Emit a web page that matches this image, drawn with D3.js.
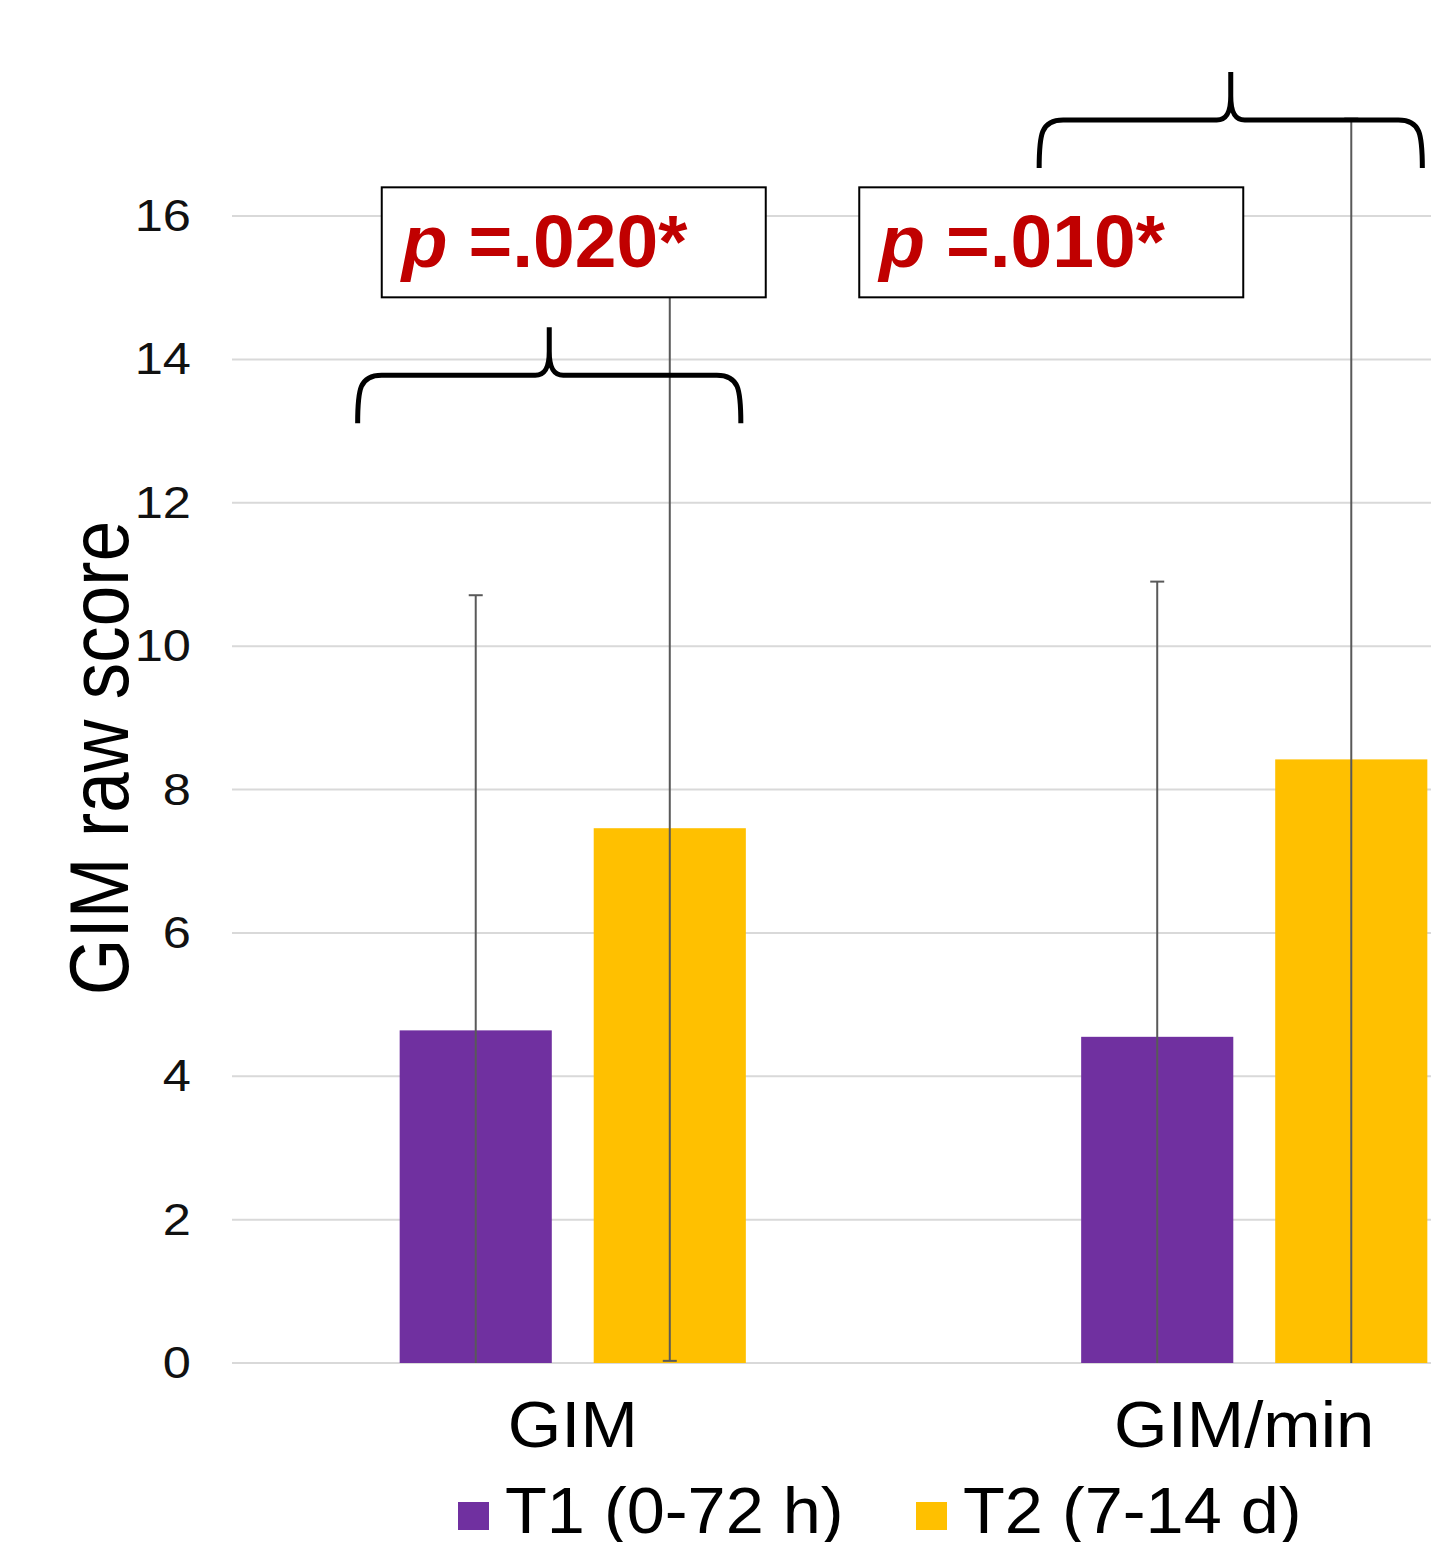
<!DOCTYPE html>
<html>
<head>
<meta charset="utf-8">
<script src="https://cdn.jsdelivr.net/npm/d3@7"></script>
<style>
  body { margin: 0; background: #fff; }
  svg text { font-family: "Liberation Sans", Arial, Helvetica, sans-serif; }
</style>
</head>
<body>
<script>
// ── Data ──────────────────────────────────────────────────────────────────
const categories = ['GIM', 'GIM/min'];
const series     = ['T1 (0-72 h)', 'T2 (7-14 d)'];
const t1Means    = [4.64, 4.55];
const t2Means    = [7.46, 8.42];
const t1SD       = [6.07, 6.35];
const t2SD       = [7.43, 8.94];
const yTicks     = [0, 2, 4, 6, 8, 10, 12, 14, 16];
const colors     = ['#7030A0', '#FFC000'];

// significance annotations: p label, brace levels (data units)
const sigLabels  = ['=.020*', '=.010*'];
const braceLevel = [13.78, 17.34];   // horizontal part of brace
const boxLevel   = [16.4, 16.4];     // top of p-value box

const W = 1431, H = 1542;
const svg = d3.select('body').append('svg').attr('width', W).attr('height', H);

const y  = d3.scaleLinear().domain([0, 16]).range([1363, 216]);
const x0 = d3.scaleBand().domain(categories).range([232, 1595]);
const x1 = d3.scaleBand().domain(series).range([0, x0.bandwidth()])
  .paddingInner(0.216).paddingOuter(0.864);

const rows = categories.map((c, i) => [
  { cat: c, s: series[0], mean: t1Means[i], sd: t1SD[i], col: colors[0] },
  { cat: c, s: series[1], mean: t2Means[i], sd: t2SD[i], col: colors[1] },
]).flat();

// ── Grid + y ticks ────────────────────────────────────────────────────────
svg.append('g').selectAll('line').data(yTicks).join('line')
  .attr('x1', 232).attr('x2', W)
  .attr('y1', d => y(d)).attr('y2', d => y(d))
  .attr('stroke', '#d9d9d9').attr('stroke-width', 2);

svg.append('g').selectAll('text').data(yTicks).join('text')
  .attr('transform', d => `translate(191,${y(d) + 15}) scale(1.15,1)`)
  .attr('text-anchor', 'end')
  .attr('font-size', 44).attr('fill', '#111')
  .text(d => d);

// y title
svg.append('text')
  .attr('transform', 'translate(128,758) rotate(-90) scale(1,1.15)')
  .attr('text-anchor', 'middle')
  .attr('font-size', 73).attr('fill', '#000')
  .text('GIM raw score');

// ── Bars ──────────────────────────────────────────────────────────────────
svg.append('g').selectAll('rect').data(rows).join('rect')
  .attr('x', d => x0(d.cat) + x1(d.s))
  .attr('width', x1.bandwidth())
  .attr('y', d => y(d.mean))
  .attr('height', d => y(0) - y(d.mean))
  .attr('fill', d => d.col);

// ── Error bars (clipped at zero) ──────────────────────────────────────────
svg.append('defs').append('clipPath').attr('id', 'err-clip')
  .append('rect').attr('x', 0).attr('y', 0).attr('width', W).attr('height', y(0));

const errG = svg.append('g').attr('clip-path', 'url(#err-clip)')
  .attr('stroke', '#595959').attr('stroke-width', 2);
const cx = d => x0(d.cat) + x1(d.s) + x1.bandwidth() / 2;

errG.selectAll('line.stem').data(rows).join('line').attr('class', 'stem')
  .attr('x1', cx).attr('x2', cx)
  .attr('y1', d => y(d.mean + d.sd)).attr('y2', d => y(d.mean - d.sd));
errG.selectAll('line.cap-hi').data(rows).join('line').attr('class', 'cap-hi')
  .attr('x1', d => cx(d) - 7).attr('x2', d => cx(d) + 7)
  .attr('y1', d => y(d.mean + d.sd)).attr('y2', d => y(d.mean + d.sd));
errG.selectAll('line.cap-lo').data(rows).join('line').attr('class', 'cap-lo')
  .attr('x1', d => cx(d) - 7).attr('x2', d => cx(d) + 7)
  .attr('y1', d => y(d.mean - d.sd)).attr('y2', d => y(d.mean - d.sd));

// ── p-value boxes ─────────────────────────────────────────────────────────
const boxDx = [-191, -395];   // box left edge relative to group centre
categories.forEach((c, i) => {
  const gc = x0(c) + x0.bandwidth() / 2;
  const bx = gc + boxDx[i];
  const by = y(boxLevel[i]);
  const g = svg.append('g');
  g.append('rect')
    .attr('x', bx).attr('y', by).attr('width', 384).attr('height', 110)
    .attr('fill', '#fff').attr('stroke', '#000').attr('stroke-width', 2);
  const t = g.append('text')
    .attr('x', bx + 20).attr('y', by + 80)
    .attr('font-size', 75).attr('font-weight', 'bold').attr('fill', '#C00000');
  t.append('tspan').attr('font-style', 'italic').text('p');
  t.append('tspan').text(' ' + sigLabels[i]);
});

// ── Braces ────────────────────────────────────────────────────────────────
function bracePath(xa, xb, yh) {
  const xc = (xa + xb) / 2, yb = yh + 48, yt = yh - 48;
  return `M${xa},${yb} C${xa},${yh + 14} ${xa + 2},${yh} ${xa + 24},${yh}
          L${xc - 14},${yh} C${xc - 4},${yh} ${xc},${yh - 8} ${xc},${yh - 24} L${xc},${yt}
          M${xc},${yh - 24} C${xc},${yh - 8} ${xc + 4},${yh} ${xc + 14},${yh}
          L${xb - 24},${yh} C${xb - 2},${yh} ${xb},${yh + 14} ${xb},${yb}`;
}
categories.forEach((c, i) => {
  const xa = x0(c) + x1(series[0]) - 42;
  const xb = x0(c) + x1(series[1]) + x1.bandwidth() - 5;
  svg.append('path')
    .attr('d', bracePath(xa, xb, y(braceLevel[i])))
    .attr('fill', 'none').attr('stroke', '#000').attr('stroke-width', 5);
});

// ── Category labels ───────────────────────────────────────────────────────
const labelDx = [0, -10];
svg.append('g').selectAll('text').data(categories).join('text')
  .attr('transform', (d, i) => `translate(${x0(d) + x0.bandwidth() / 2 + labelDx[i]},1447) scale(1.06,1)`)
  .attr('text-anchor', 'middle')
  .attr('font-size', 65).attr('fill', '#000')
  .text(d => d);

// ── Legend ────────────────────────────────────────────────────────────────
const legX = [458, 916];
const leg = svg.append('g').selectAll('g').data(series).join('g')
  .attr('transform', (d, i) => `translate(${legX[i]},0)`);
leg.append('rect')
  .attr('x', 0).attr('y', 1502).attr('width', 31).attr('height', 28)
  .attr('fill', (d, i) => colors[i]);
leg.append('text')
  .attr('transform', 'translate(47,1533) scale(1.07,1)')
  .attr('font-size', 64).attr('fill', '#000')
  .text(d => d);
</script>
</body>
</html>
